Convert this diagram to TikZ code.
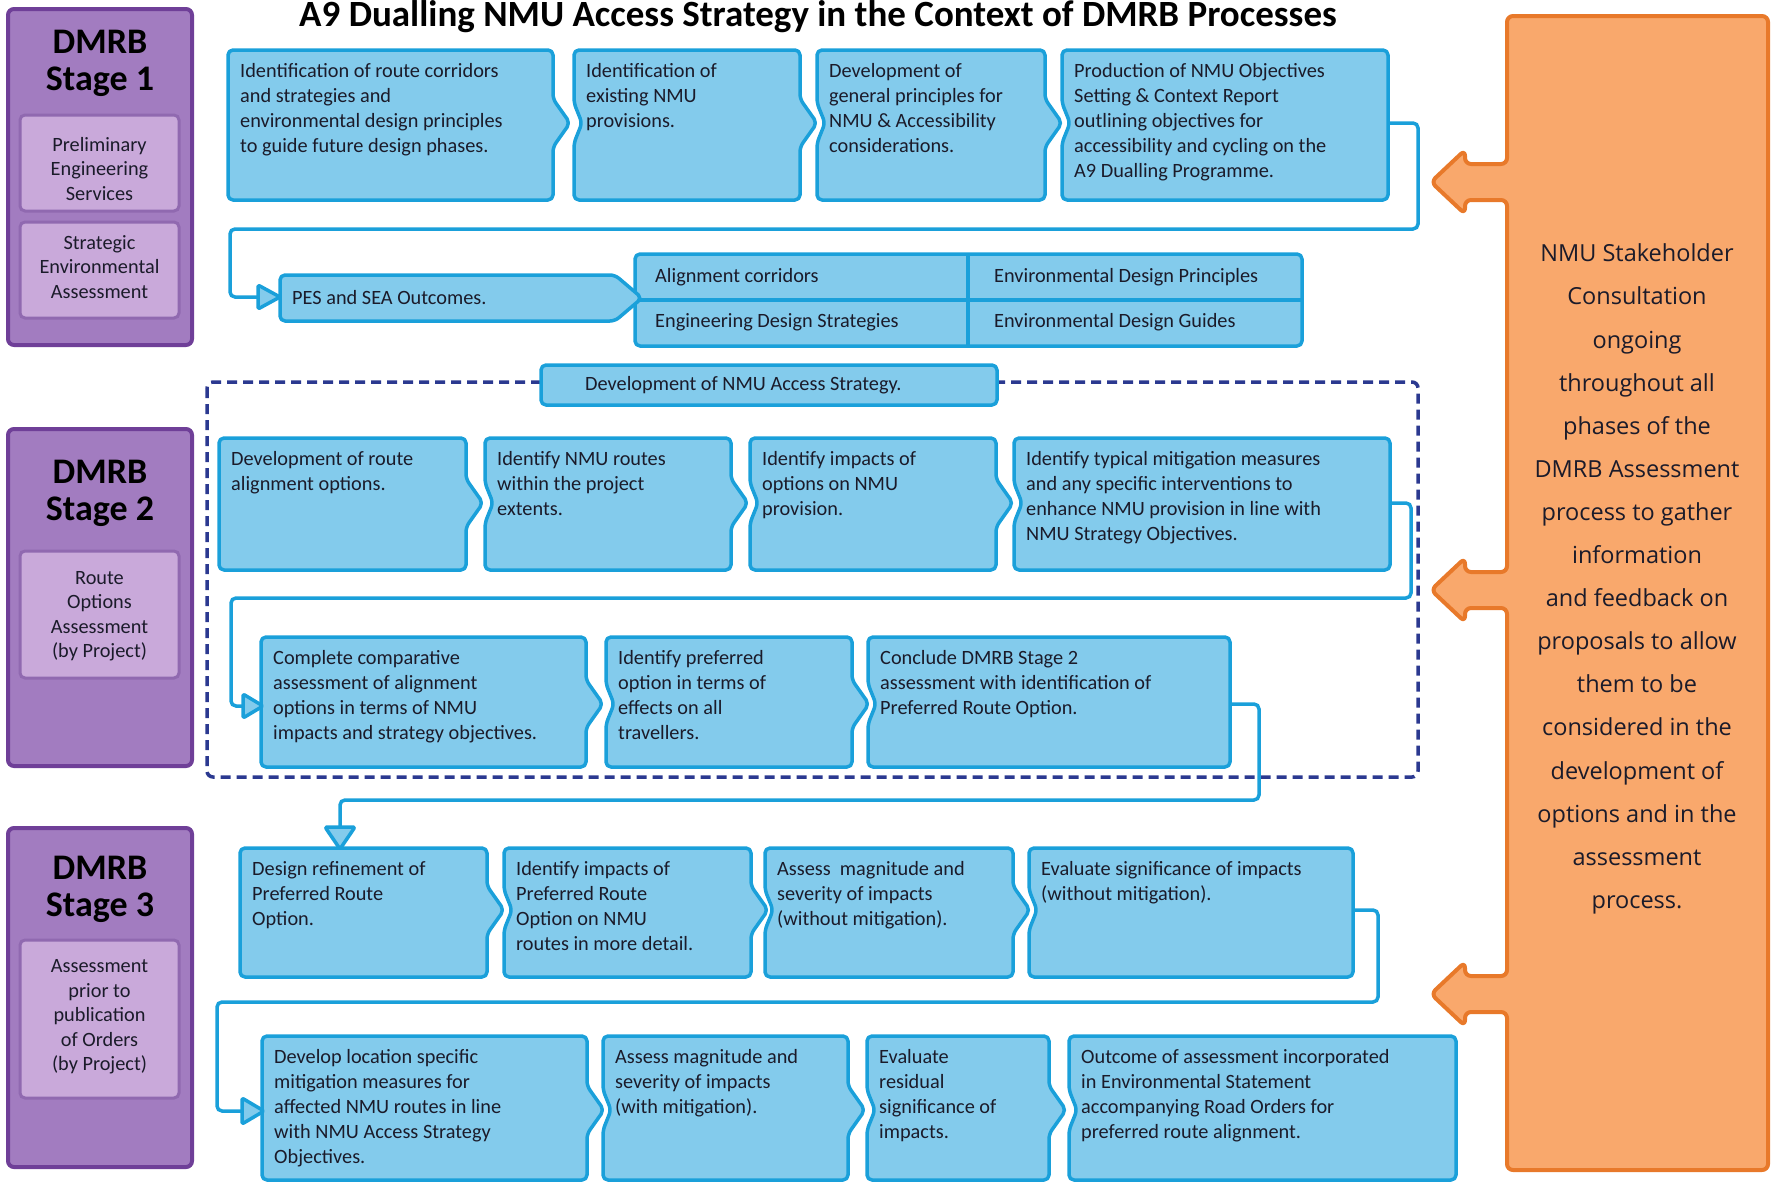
\documentclass[tikz,border=0pt]{standalone}
\usepackage{fontspec}
\setmainfont{Carlito}
\newfontfamily\orangefont{Open Sans}
\definecolor{bfill}{HTML}{83CBEC}
\definecolor{bdraw}{HTML}{1AA0DA}
\definecolor{ptext}{HTML}{1B1B2A}
\definecolor{pfill}{HTML}{A27CC0}
\definecolor{pdraw}{HTML}{6F3F98}
\definecolor{pinfill}{HTML}{C9A9DA}
\definecolor{pindraw}{HTML}{9069B0}
\definecolor{ofill}{HTML}{F9A86C}
\definecolor{odraw}{HTML}{E8792A}
\definecolor{navy}{HTML}{2B3990}
\tikzset{
  blueshape/.style={fill=bfill, draw=bdraw, line width=3.5pt, rounded corners=5pt, line join=round},
  btext/.style={anchor=north west, inner sep=0pt, align=left, text=ptext, font=\fontsize{20.3}{25}\selectfont},
  ltext/.style={anchor=west, inner sep=0pt, text=ptext, font=\fontsize{20.3}{25}\selectfont},
  conn/.style={draw=bdraw, line width=3.5pt, rounded corners=5pt},
  tri/.style={fill=bfill, draw=bdraw, line width=3.5pt, line join=round, rounded corners=2pt},
  stagebox/.style={fill=pfill, draw=pdraw, line width=4pt, rounded corners=6pt},
  stageinner/.style={fill=pinfill, draw=pindraw, line width=3pt, rounded corners=5pt},
  stagetitle/.style={align=center, inner sep=0pt, text=black, font=\bfseries\fontsize{36}{37}\selectfont},
  stagetext/.style={align=center, inner sep=0pt, text=ptext, font=\fontsize{20.3}{24.5}\selectfont},
  otext/.style={align=center, inner sep=0pt, text=ptext, font=\orangefont\fontsize{23.5}{43.1}\selectfont},
}
% #1 name, #2 x1, #3 y1, #4 x2, #5 y2, #6 chevron y, #7 notch, #8 bump, #9 text
\newcommand{\procbox}[9]{%
  \ifnum#8=1 \def\rsd{--({#4},{#6-24})--({#4+17},{#6})--({#4},{#6+24})}\else\def\rsd{}\fi
  \ifnum#7=1 \def\lsd{--({#2},{#6+20})--({#2+8},{#6})--({#2},{#6-20})}\else\def\lsd{}\fi
  \path[blueshape] ({#2},{#3}) -- ({#4},{#3}) \rsd -- ({#4},{#5}) -- ({#2},{#5}) \lsd -- cycle;
  \node[btext] (#1) at ({#2+12},{#3+13}) {#9};
}
\begin{document}
\begin{tikzpicture}[x=1pt,y=-1pt]
\useasboundingbox (0,0) rectangle (1771,1183);
\clip (0,0) rectangle (1771,1183);

% title
\node[inner sep=0pt, font=\bfseries\fontsize{37}{38}\selectfont] (title) at (818,17) {A9 Dualling NMU Access Strategy in the Context of DMRB Processes};

% stage boxes
\path[stagebox] (8,9) rectangle (192,345);
\node[stagetitle] (s1t) at (100,63) {DMRB\\Stage 1};
\path[stageinner] (20,115) rectangle (179,211);
\node[stagetext] (s1a) at (99.5,169) {Preliminary\\Engineering\\Services};
\path[stageinner] (20,222) rectangle (179,318);
\node[stagetext] (s1b) at (99.5,267) {Strategic\\Environmental\\Assessment};

\path[stagebox] (8,429) rectangle (192,766);
\node[stagetitle] (s2t) at (100,493) {DMRB\\Stage 2};
\path[stageinner] (20,551) rectangle (179,678);
\node[stagetext] (s2a) at (99.5,616) {Route\\Options\\Assessment\\(by Project)};

\path[stagebox] (8,828) rectangle (192,1167);
\node[stagetitle] (s3t) at (100,889) {DMRB\\Stage 3};
\path[stageinner] (20,940) rectangle (179,1098);
\node[stagetext] (s3a) at (99.5,1017) {Assessment\\prior to\\publication\\of Orders\\(by Project)};

% dashed frame
\draw[navy, line width=3.5pt, dash pattern=on 10pt off 6pt, rounded corners=6pt] (207,382) rectangle (1418,777);

% connector coordinates
\coordinate (b4e) at (1388,123);
\coordinate (c4e) at (1390,503);
\coordinate (d3e) at (1230,704);
\coordinate (e4e) at (1353,910);
\coordinate (t1) at (258,297);
\coordinate (t2) at (243,706);
\coordinate (t3) at (340,827);
\coordinate (t4) at (242,1111);

\draw[conn] (b4e) -- (1418,123) -- (1418,229) -- (230,229) -- (230,297) -- (t1);
\draw[conn] (c4e) -- (1411,503) -- (1411,598) -- (231,598) -- (231,706) -- (t2);
\draw[conn] (d3e) -- (1259,704) -- (1259,800) -- (340,800) -- (t3);
\draw[conn] (e4e) -- (1378,910) -- (1378,1002) -- (217,1002) -- (217,1111) -- (t4);

% row 1
\procbox{B1}{228}{50}{553}{200}{123}{0}{1}{Identification of route corridors\\and strategies and\\environmental design principles\\to guide future design phases.}
\procbox{B2}{574}{50}{800}{200}{123}{1}{1}{Identification of\\existing NMU\\provisions.}
\procbox{B3}{817}{50}{1045}{200}{123}{1}{1}{Development of\\general principles for\\NMU \& Accessibility\\considerations.}
\procbox{B4}{1062}{50}{1388}{200}{123}{1}{0}{Production of NMU Objectives\\Setting \& Context Report\\outlining objectives for\\accessibility and cycling on the\\A9 Dualling Programme.}

% outcomes
\path[blueshape] (635,254) rectangle (1302,346);
\draw[bdraw, line width=3.5pt] (635,300) -- (1302,300);
\draw[bdraw, line width=3.5pt] (968,254) -- (968,346);
\node[ltext] (g1) at (655,277) {Alignment corridors};
\node[ltext] (g2) at (994,277) {Environmental Design Principles};
\node[ltext] (g3) at (655,322) {Engineering Design Strategies};
\node[ltext] (g4) at (994,322) {Environmental Design Guides};
\path[blueshape] (280,275) -- (615,275) -- (642,298) -- (615,321) -- (280,321) -- cycle;
\node[ltext] (pes) at (292,298) {PES and SEA Outcomes.};
\path[tri] (t1) ++(0,-12) -- (280,297) -- (258,309) -- cycle;

% development of strategy
\path[blueshape] (541,365) rectangle (997,405);
\node[ltext] (dev) at (585,385) {Development of NMU Access Strategy.};

% row 2
\procbox{C1}{219}{438}{466}{570}{503}{0}{1}{Development of route\\alignment options.}
\procbox{C2}{485}{438}{731}{570}{503}{1}{1}{Identify NMU routes\\within the project\\extents.}
\procbox{C3}{750}{438}{996}{570}{503}{1}{1}{Identify impacts of\\options on NMU\\provision.}
\procbox{C4}{1014}{438}{1390}{570}{503}{1}{0}{Identify typical mitigation measures\\and any specific interventions to\\enhance NMU provision in line with\\NMU Strategy Objectives.}

% row 3
\procbox{D1}{261}{637}{586}{767}{704}{0}{1}{Complete comparative\\assessment of alignment\\options in terms of NMU\\impacts and strategy objectives.}
\procbox{D2}{606}{637}{852}{767}{704}{1}{1}{Identify preferred\\option in terms of\\effects on all\\travellers.}
\procbox{D3}{868}{637}{1230}{767}{704}{1}{0}{Conclude DMRB Stage 2\\assessment with identification of\\Preferred Route Option.}
\path[tri] (t2) ++(0,-12) -- (263,706) -- (243,718) -- cycle;

% row 4
\procbox{E1}{240}{848}{487}{977}{910}{0}{1}{Design refinement of\\Preferred Route\\Option.}
\procbox{E2}{504}{848}{751}{977}{910}{1}{1}{Identify impacts of\\Preferred Route\\Option on NMU\\routes in more detail.}
\procbox{E3}{765}{848}{1013}{977}{910}{1}{1}{Assess\ \ magnitude and\\severity of impacts\\(without mitigation).}
\procbox{E4}{1029}{848}{1353}{977}{910}{1}{0}{Evaluate significance of impacts\\(without mitigation).}
\path[tri] (t3) ++(-15,0) -- (340,849) -- (355,827) -- cycle;

% row 5
\procbox{F1}{262}{1036}{587}{1180}{1110}{0}{1}{Develop location specific\\mitigation measures for\\affected NMU routes in line\\with NMU Access Strategy\\Objectives.}
\procbox{F2}{603}{1036}{848}{1180}{1110}{1}{1}{Assess magnitude and\\severity of impacts\\(with mitigation).}
\procbox{F3}{867}{1036}{1049}{1180}{1110}{1}{1}{Evaluate\\residual\\significance of\\impacts.}
\procbox{F4}{1069}{1036}{1456}{1180}{1110}{1}{0}{Outcome of assessment incorporated\\in Environmental Statement\\accompanying Road Orders for\\preferred route alignment.}
\path[tri] (t4) ++(0,-13) -- (264,1111) -- (242,1124) -- cycle;

% orange consultation box with arrows
\path[fill=ofill, draw=odraw, line width=4pt, rounded corners=6pt, line join=round]
  (1507,16) -- (1768,16) -- (1768,1170) -- (1507,1170)
  -- (1507,1012) -- (1465,1012) -- (1465,1026) -- (1431,994) -- (1465,962) -- (1465,976) -- (1507,976)
  -- (1507,608) -- (1465,608) -- (1465,622) -- (1431,590) -- (1465,558) -- (1465,572) -- (1507,572)
  -- (1507,200) -- (1465,200) -- (1465,214) -- (1431,182) -- (1465,150) -- (1465,164) -- (1507,164)
  -- cycle;
\node[otext] (cons) at (1637,579) {NMU Stakeholder\\Consultation\\ongoing\\throughout all\\phases of the\\DMRB Assessment\\process to gather\\information\\and feedback on\\proposals to allow\\them to be\\considered in the\\development of\\options and in the\\assessment\\process.};
\end{tikzpicture}
\end{document}
